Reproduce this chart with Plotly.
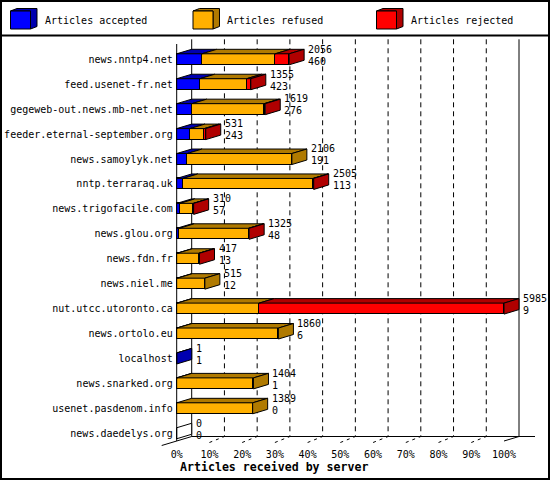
import plotly.graph_objects as go

# ---------------- data ----------------
servers = ["news.nntp4.net", "feed.usenet-fr.net", "gegeweb-out.news.mb-net.net",
           "feeder.eternal-september.org", "news.samoylyk.net", "nntp.terraraq.uk",
           "news.trigofacile.com", "news.glou.org", "news.fdn.fr", "news.niel.me",
           "nut.utcc.utoronto.ca", "news.ortolo.eu", "localhost", "news.snarked.org",
           "usenet.pasdenom.info", "news.daedelys.org"]
accepted = [460, 423, 276, 243, 191, 113, 57, 48, 13, 12, 9, 6, 1, 1, 0, 0]
refused = [1340, 855, 1323, 261, 1915, 2380, 245, 1265, 394, 503, 1499, 1854, 0, 1403, 1389, 0]
rejected = [256, 77, 20, 27, 0, 12, 8, 12, 10, 0, 4477, 0, 0, 0, 0, 0]
series_names = ["Articles accepted", "Articles refused", "Articles rejected"]
pct_ticks = [0, 10, 20, 30, 40, 50, 60, 70, 80, 90, 100]
axis_title = "Articles received by server"

# ---------------- style / geometry ----------------
FRONT = ["#0000FF", "#FFB000", "#FF0000"]
DARK = ["#0000B0", "#B07A00", "#B00000"]
FONT = "DejaVu Sans Mono"
W, Hpx = 550, 480
X0, PXP = 176.7, 3.273      # pixel of 0 %, pixels per percent
Y0, ROW = 59.3, 24.93       # pixel of first row centre, pixels per row
DX = 15 / PXP               # depth offset (percent units)
DY = -4.5 / ROW             # depth offset (row units)
HH = 5.5 / ROW              # half bar height
BACK_TOP = (39.3 - Y0) / ROW
FRONT_TOP = (44 - Y0) / ROW
FLOOR_BACK = (436.5 - Y0) / ROW
FLOOR_FRONT = FLOOR_BACK - DY

series = [accepted, refused, rejected]
totals = [a + b + c for a, b, c in zip(accepted, refused, rejected)]
vmax = max(totals)
rows = list(range(len(servers)))


def pct(v):
    return v / vmax * 100.0


fig = go.Figure()

# front faces (stacked horizontal bars)
for k in range(3):
    fig.add_trace(go.Bar(
        y=rows, x=[pct(v) for v in series[k]], orientation="h", width=2 * HH,
        marker=dict(color=FRONT[k], line=dict(color="black", width=1)),
        name=series_names[k], showlegend=False, hoverinfo="skip"))

# top faces
for k in range(3):
    xs, ys = [], []
    for r in rows:
        v = series[k][r]
        if v <= 0:
            continue
        b = pct(sum(series[j][r] for j in range(k)))
        e = b + pct(v)
        t = r - HH
        xs += [b, e, e + DX, b + DX, b, None]
        ys += [t, t, t + DY, t + DY, t, None]
    fig.add_trace(go.Scatter(x=xs, y=ys, mode="lines", fill="toself", fillcolor=DARK[k],
                             line=dict(color="black", width=1), showlegend=False,
                             hoverinfo="skip"))

# side faces
side_groups = {}
for r in rows:
    last = None
    for k in range(3):
        if series[k][r] > 0:
            last = k
    col = DARK[last] if last is not None else "white"
    e = pct(totals[r])
    t, b = r - HH, r + HH
    xs, ys = side_groups.setdefault(col, ([], []))
    xs += [e, e, e + DX, e + DX, e, None]
    ys += [t, b, b + DY, t + DY, t, None]
for col, (xs, ys) in side_groups.items():
    fig.add_trace(go.Scatter(x=xs, y=ys, mode="lines", fill="toself", fillcolor=col,
                             line=dict(color="black", width=1), showlegend=False,
                             hoverinfo="skip"))

# frame lines
shapes = []
for p in pct_ticks:
    solid = p in (pct_ticks[0], pct_ticks[-1])
    shapes.append(dict(type="line", xref="x", yref="y", x0=p + DX, x1=p + DX,
                       y0=BACK_TOP, y1=FLOOR_BACK, layer="below",
                       line=dict(color="black", width=1, dash="solid" if solid else "5px,4px")))
    if 0 < p < 100:
        shapes.append(dict(type="line", xref="x", yref="y", x0=p, x1=p + DX,
                           y0=FLOOR_FRONT + 0.06, y1=FLOOR_BACK,
                           line=dict(color="black", width=1, dash="3px,4px")))
shapes.append(dict(type="line", xref="x", yref="y", x0=DX, x1=(535 - X0) / PXP,
                   y0=FLOOR_BACK, y1=FLOOR_BACK, line=dict(color="black", width=1)))
shapes.append(dict(type="line", xref="x", yref="y", x0=-DX, x1=DX,
                   y0=FLOOR_FRONT - DY, y1=FLOOR_BACK, line=dict(color="black", width=1)))
shapes.append(dict(type="line", xref="x", yref="y", x0=100, x1=100 + DX,
                   y0=FLOOR_FRONT, y1=FLOOR_BACK, line=dict(color="black", width=1)))
shapes.append(dict(type="line", xref="x", yref="y", x0=0, x1=0,
                   y0=FRONT_TOP, y1=FLOOR_FRONT, line=dict(color="black", width=1)))

# legend separator and border
shapes.append(dict(type="line", xref="paper", yref="paper", x0=0, x1=1,
                   y0=1 - 35.5 / Hpx, y1=1 - 35.5 / Hpx, line=dict(color="black", width=2)))
shapes.append(dict(type="rect", xref="paper", yref="paper", x0=1 / W, x1=1 - 1 / W,
                   y0=1 / Hpx, y1=1 - 1 / Hpx, line=dict(color="black", width=2)))


def P(px, py):
    return f"{px / W:.5f},{1 - py / Hpx:.5f}"


annotations = []
leg_x = [10.5, 193.0, 376.5]
for k in range(3):
    x, y, w, h, dx, dy = leg_x[k], 11.0, 20.0, 18.0, 6.5, -2.5
    shapes.append(dict(type="path", xref="paper", yref="paper", fillcolor=DARK[k],
                       line=dict(color="black", width=1),
                       path=f"M{P(x, y)} L{P(x + dx, y + dy)} L{P(x + w + dx, y + dy)} "
                            f"L{P(x + w + dx, y + h + dy)} L{P(x + w, y + h)} L{P(x + w, y)} Z"))
    shapes.append(dict(type="rect", xref="paper", yref="paper", fillcolor=FRONT[k],
                       line=dict(color="black", width=1),
                       x0=x / W, x1=(x + w) / W, y0=1 - y / Hpx, y1=1 - (y + h) / Hpx))
    annotations.append(dict(xref="paper", yref="paper", x=(x + w + 12) / W, y=1 - 20.5 / Hpx,
                            text=series_names[k], showarrow=False, xanchor="left",
                            yanchor="middle", font=dict(family=FONT, size=10, color="black")))

# value labels (total / accepted)
for r in rows:
    xe = pct(totals[r]) + DX + 2 / PXP
    annotations.append(dict(xref="x", yref="y", x=xe, y=r - 10.2 / ROW, text=str(totals[r]),
                            showarrow=False, xanchor="left", yanchor="middle",
                            font=dict(family=FONT, size=10, color="black")))
    annotations.append(dict(xref="x", yref="y", x=xe, y=r + 1.8 / ROW, text=str(accepted[r]),
                            showarrow=False, xanchor="left", yanchor="middle",
                            font=dict(family=FONT, size=10, color="black")))

annotations.append(dict(xref="paper", yref="paper", x=273.5 / W, y=1 - 467 / Hpx,
                        text=f"<b>{axis_title}</b>", showarrow=False, xanchor="center",
                        yanchor="middle", font=dict(family=FONT, size=11.6, color="black")))

fig.update_layout(
    width=W, height=Hpx, margin=dict(l=0, r=0, t=0, b=0, autoexpand=False),
    paper_bgcolor="white", plot_bgcolor="white", barmode="stack", bargap=0,
    shapes=shapes, annotations=annotations, showlegend=False,
    font=dict(family=FONT, size=10, color="black"),
    xaxis=dict(range=[-X0 / PXP, (W - X0) / PXP], showgrid=False, zeroline=False,
               showline=False, tickvals=pct_ticks, ticktext=[f"{p}%" for p in pct_ticks],
               anchor="free", position=(Hpx - 440.5) / Hpx, ticks="outside", ticklen=4,
               tickcolor="rgba(0,0,0,0)", tickfont=dict(family=FONT, size=10, color="black"),
               fixedrange=True),
    yaxis=dict(range=[(Hpx - Y0) / ROW, -Y0 / ROW], showgrid=False, zeroline=False,
               showline=False, tickvals=rows, ticktext=servers, anchor="free",
               position=X0 / W, ticks="outside", ticklen=2, tickcolor="rgba(0,0,0,0)",
               tickfont=dict(family=FONT, size=10, color="black"), fixedrange=True),
)

fig.write_html("out.html", config={"displayModeBar": False},
               post_script="document.body.style.margin='0';"
                           "document.body.style.overflow='hidden';")
